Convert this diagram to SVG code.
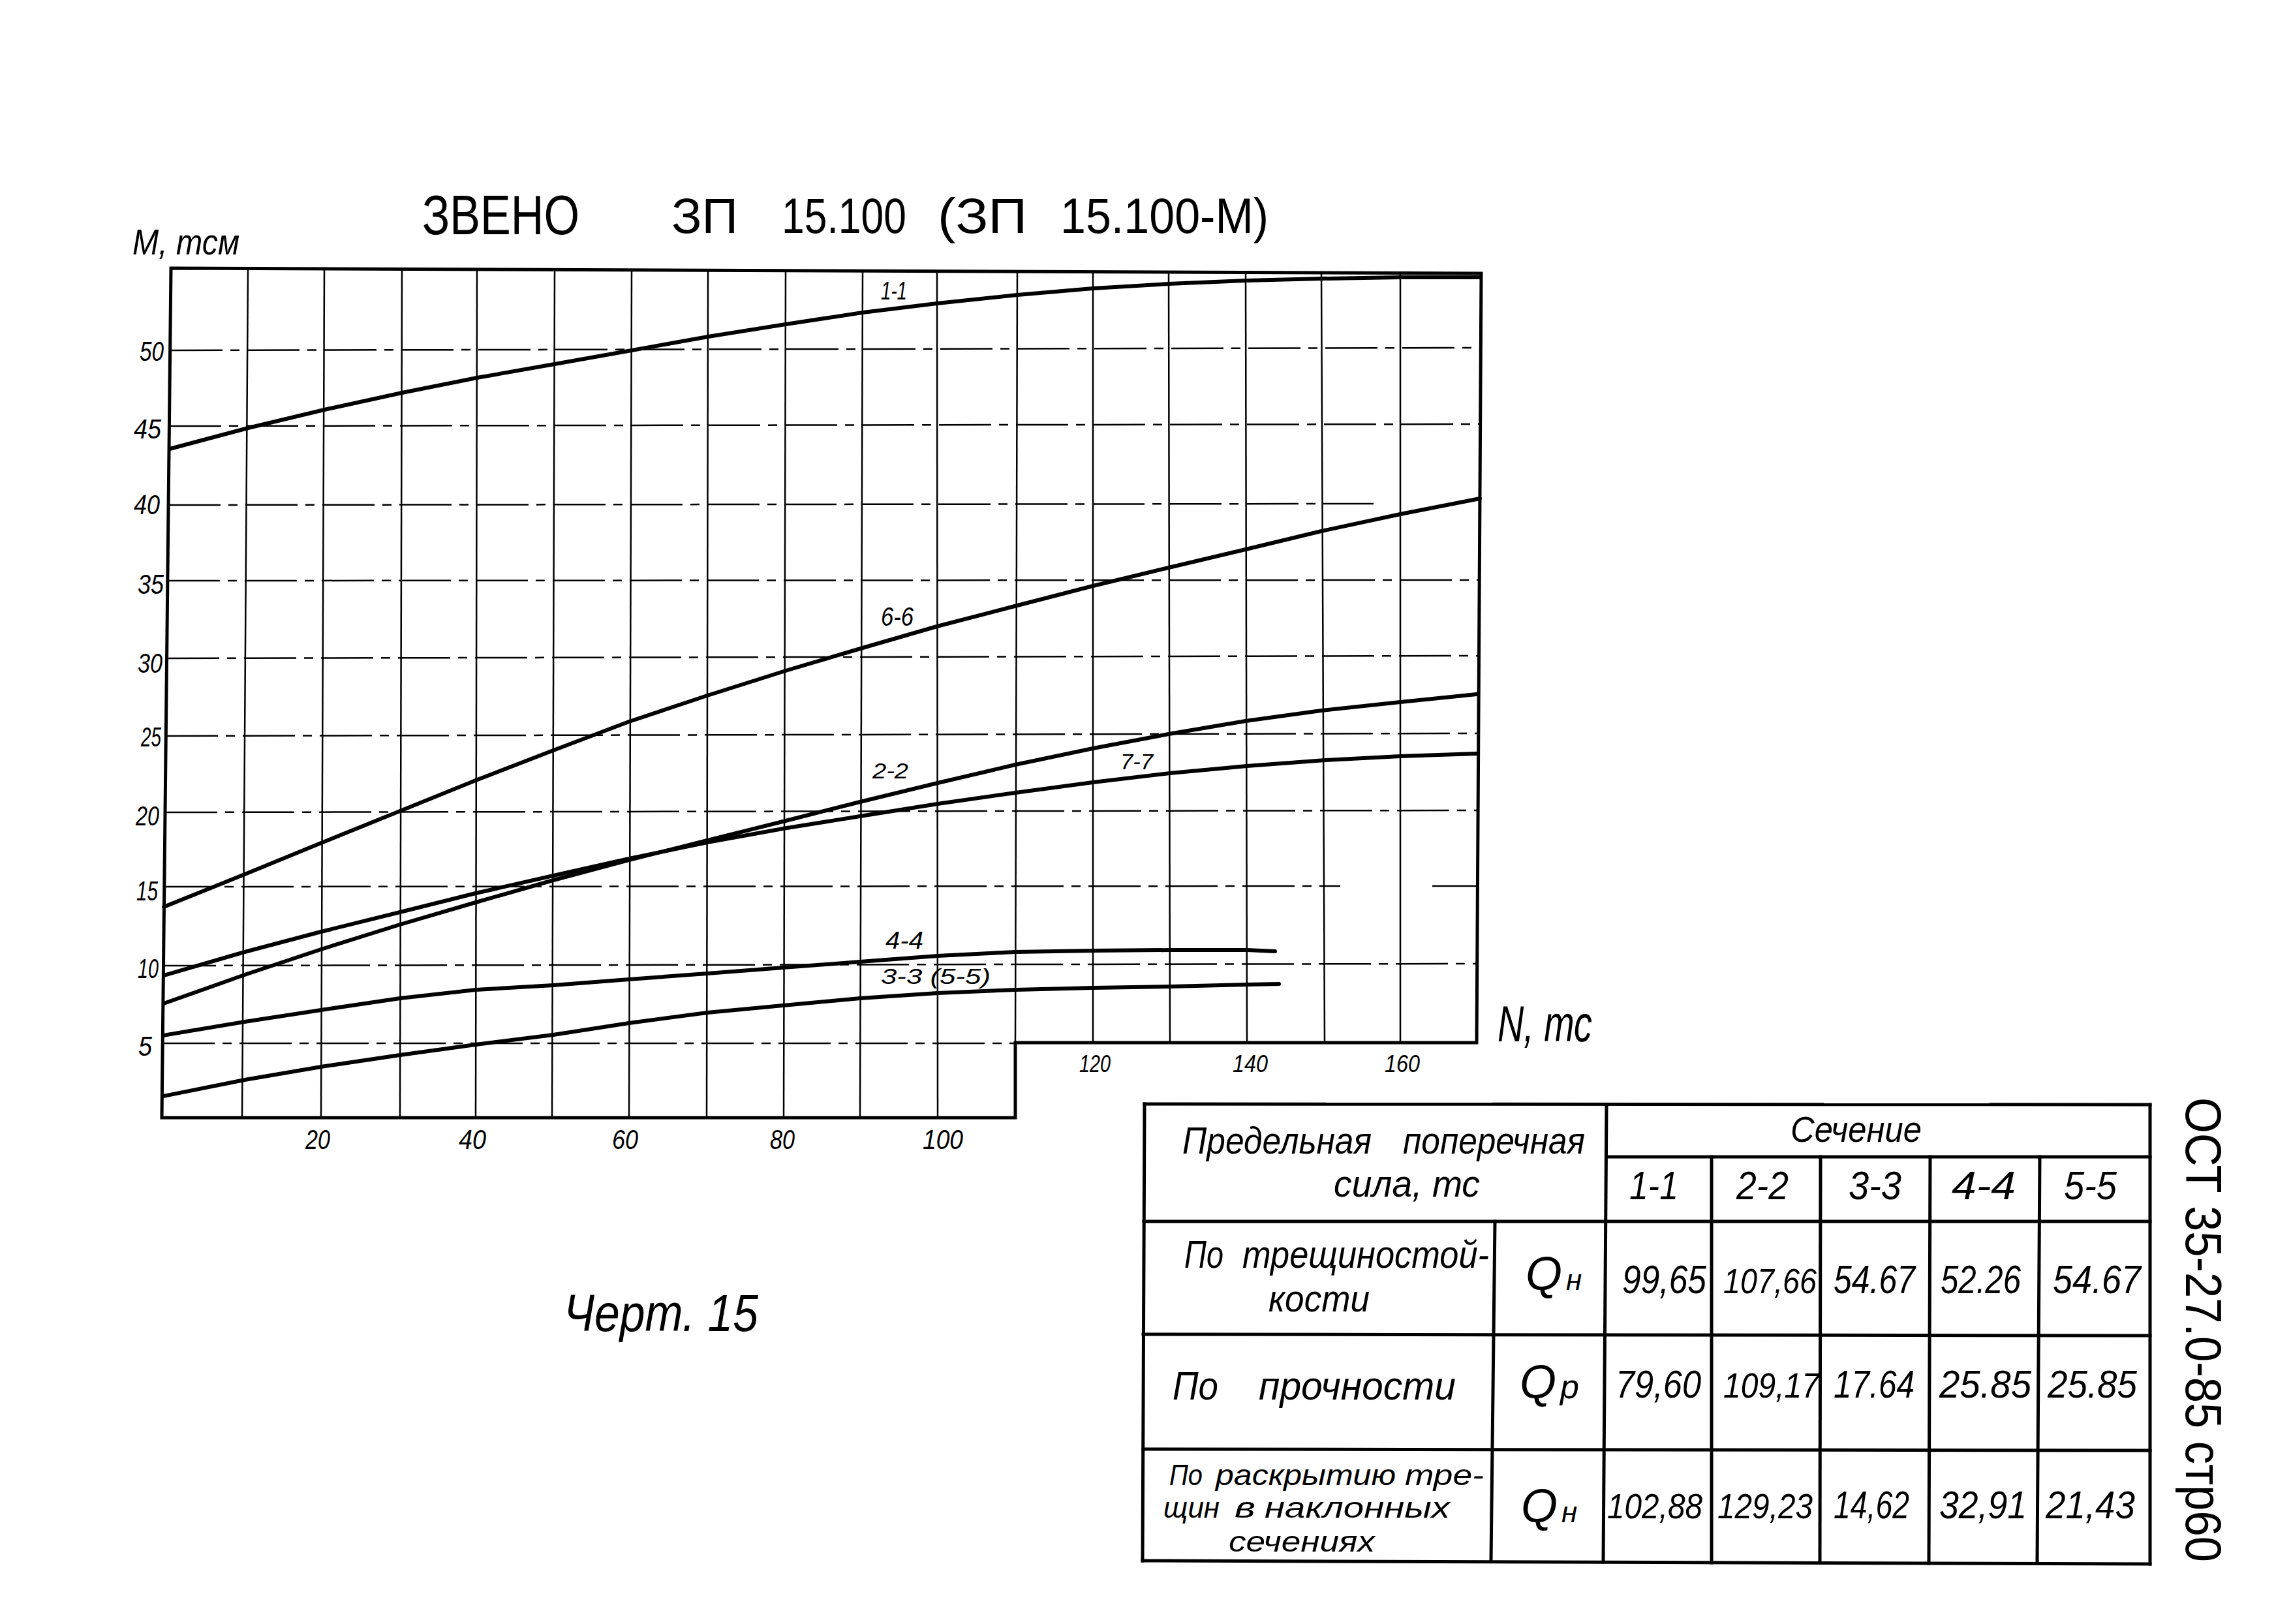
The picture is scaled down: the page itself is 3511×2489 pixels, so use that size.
<svg xmlns="http://www.w3.org/2000/svg" width="3511" height="2489" viewBox="0 0 3511 2489">
<defs>
<style>
.frame{fill:none;stroke:#000;stroke-width:5;stroke-linejoin:miter}
.gv{fill:none;stroke:#000;stroke-width:2.5}
.gh{fill:none;stroke:#000;stroke-width:2.5;stroke-dasharray:80 12 14 12}
.crv{fill:none;stroke:#000;stroke-width:6;stroke-linecap:round;stroke-linejoin:round}
.tl{fill:none;stroke:#000;stroke-width:5;stroke-linecap:square}
.t{font-family:"Liberation Sans",Arial,sans-serif;fill:#000}
.i{font-family:"Liberation Sans",Arial,sans-serif;font-style:italic;fill:#000}
</style>
</defs>
<rect x="0" y="0" width="3511" height="2489" fill="#fff"/>

<g id="title">
<text class="t" font-size="86" x="647" y="359" textLength="241" lengthAdjust="spacingAndGlyphs">ЗВЕНО</text>
<text class="t" font-size="76" y="357"><tspan x="1029" textLength="102" lengthAdjust="spacingAndGlyphs">ЗП</tspan><tspan x="1198" textLength="191" lengthAdjust="spacingAndGlyphs">15.100</tspan><tspan x="1437" textLength="137" lengthAdjust="spacingAndGlyphs">(ЗП</tspan><tspan x="1625" textLength="319" lengthAdjust="spacingAndGlyphs">15.100-М)</tspan></text>
</g>

<g id="grid">
<line class="gv" x1="380" y1="413" x2="371" y2="1713"/>
<line class="gv" x1="497" y1="413" x2="492" y2="1713"/>
<line class="gv" x1="616" y1="413" x2="613" y2="1713"/>
<line class="gv" x1="731" y1="414" x2="729" y2="1713"/>
<line class="gv" x1="850" y1="414" x2="846" y2="1713"/>
<line class="gv" x1="968" y1="414" x2="964" y2="1713"/>
<line class="gv" x1="1085" y1="415" x2="1083" y2="1713"/>
<line class="gv" x1="1204" y1="415" x2="1201" y2="1713"/>
<line class="gv" x1="1322" y1="415" x2="1318" y2="1713"/>
<line class="gv" x1="1436" y1="416" x2="1437" y2="1713"/>
<line class="gv" x1="1559" y1="416" x2="1556" y2="1598"/>
<line class="gv" x1="1675" y1="417" x2="1675" y2="1598"/>
<line class="gv" x1="1791" y1="417" x2="1793" y2="1598"/>
<line class="gv" x1="1909" y1="418" x2="1911" y2="1598"/>
<line class="gv" x1="2025" y1="418" x2="2030" y2="1598"/>
<line class="gv" x1="2146" y1="419" x2="2146" y2="1598"/>
<line class="gh" x1="261" y1="537" x2="2268" y2="533"/>
<line class="gh" x1="259" y1="653" x2="2268" y2="650"/>
<line class="gh" x1="258" y1="774" x2="2105" y2="772"/>
<line class="gh" x1="257" y1="890" x2="2267" y2="889"/>
<line class="gh" x1="256" y1="1009" x2="2266" y2="1005"/>
<line class="gh" x1="254" y1="1128" x2="2265" y2="1124"/>
<line class="gh" x1="253" y1="1245" x2="2265" y2="1242"/>
<line class="gh" x1="252" y1="1359" x2="2054" y2="1358"/>
<line class="gh" x1="2195" y1="1358" x2="2264" y2="1358"/>
<line class="gh" x1="251" y1="1480" x2="2264" y2="1477"/>
<line class="gh" x1="249" y1="1599" x2="1556" y2="1599"/>
</g>

<g id="frame">
<path class="frame" d="M262,411 L2270,419 L2263,1598 L1556,1598 L1556,1713 L248,1713 Z"/>
</g>

<g id="curves">
<polyline id="c11" class="crv" points="260,688 380,656 497,628 616,602 731,579 850,558 968,537 1085,516 1204,497 1322,479 1436,465 1559,452 1675,442 1791,435 1909,430 2025,427 2146,425 2268,425"/>
<polyline id="c66" class="crv" points="251,1390 375,1340 492,1292 613,1243 729,1196 848,1150 964,1106 1084,1066 1204,1028 1322,993 1436,960 1559,928 1675,898 1791,870 1909,842 2025,814 2146,788 2268,764"/>
<polyline id="c22" class="crv" points="251,1538 375,1494 492,1455 613,1417 729,1383 848,1349 964,1318 1084,1288 1200,1259 1318,1229 1437,1200 1556,1172 1675,1147 1791,1125 1909,1105 2025,1089 2146,1076 2263,1064"/>
<polyline id="c77" class="crv" points="251,1495 375,1459 492,1428 613,1398 729,1369 848,1342 964,1316 1084,1291 1200,1270 1318,1251 1437,1232 1556,1215 1675,1199 1793,1185 1911,1174 2031,1165 2146,1159 2263,1155"/>
<polyline id="c44" class="crv" points="250,1587 375,1566 492,1548 613,1530 729,1517 848,1510 964,1501 1084,1492 1200,1483 1318,1474 1437,1465 1556,1459 1675,1457 1793,1456 1911,1456 1954,1458"/>
<polyline id="c33" class="crv" points="250,1680 375,1655 492,1635 613,1617 729,1601 848,1586 964,1568 1084,1552 1200,1541 1318,1530 1437,1522 1556,1517 1675,1514 1793,1512 1911,1509 1960,1508"/>
</g>

<g id="curve-labels">
<text class="i" font-size="38" x="1350" y="459" textLength="40" lengthAdjust="spacingAndGlyphs">1-1</text>
<text class="i" font-size="40" x="1350" y="959" textLength="50" lengthAdjust="spacingAndGlyphs">6-6</text>
<text class="i" font-size="34" x="1337" y="1193" textLength="55" lengthAdjust="spacingAndGlyphs">2-2</text>
<text class="i" font-size="34" x="1717" y="1179" textLength="50" lengthAdjust="spacingAndGlyphs">7-7</text>
<text class="i" font-size="36" x="1357" y="1454" textLength="58" lengthAdjust="spacingAndGlyphs">4-4</text>
<text class="i" font-size="34" x="1350" y="1508" textLength="168" lengthAdjust="spacingAndGlyphs">3-3 (5-5)</text>
</g>

<g id="axis-labels">
<text class="i" font-size="56" x="203" y="390" textLength="164" lengthAdjust="spacingAndGlyphs">M, тсм</text>
<text class="i" font-size="78" x="2295" y="1596" textLength="145" lengthAdjust="spacingAndGlyphs">N, тс</text>
<text class="i" font-size="42" x="214" y="553" textLength="37" lengthAdjust="spacingAndGlyphs">50</text>
<text class="i" font-size="42" x="205" y="672" textLength="42" lengthAdjust="spacingAndGlyphs">45</text>
<text class="i" font-size="42" x="205" y="788" textLength="40" lengthAdjust="spacingAndGlyphs">40</text>
<text class="i" font-size="42" x="211" y="910" textLength="40" lengthAdjust="spacingAndGlyphs">35</text>
<text class="i" font-size="42" x="211" y="1031" textLength="38" lengthAdjust="spacingAndGlyphs">30</text>
<text class="i" font-size="42" x="216" y="1144" textLength="31" lengthAdjust="spacingAndGlyphs">25</text>
<text class="i" font-size="42" x="208" y="1265" textLength="36" lengthAdjust="spacingAndGlyphs">20</text>
<text class="i" font-size="42" x="209" y="1380" textLength="33" lengthAdjust="spacingAndGlyphs">15</text>
<text class="i" font-size="42" x="211" y="1499" textLength="32" lengthAdjust="spacingAndGlyphs">10</text>
<text class="i" font-size="42" x="212" y="1618" textLength="21" lengthAdjust="spacingAndGlyphs">5</text>
<text class="i" font-size="42" x="468" y="1761" textLength="38" lengthAdjust="spacingAndGlyphs">20</text>
<text class="i" font-size="42" x="703" y="1761" textLength="42" lengthAdjust="spacingAndGlyphs">40</text>
<text class="i" font-size="42" x="938" y="1761" textLength="40" lengthAdjust="spacingAndGlyphs">60</text>
<text class="i" font-size="42" x="1180" y="1761" textLength="38" lengthAdjust="spacingAndGlyphs">80</text>
<text class="i" font-size="42" x="1414" y="1761" textLength="62" lengthAdjust="spacingAndGlyphs">100</text>
<text class="i" font-size="36" x="1654" y="1643" textLength="48" lengthAdjust="spacingAndGlyphs">120</text>
<text class="i" font-size="36" x="1889" y="1643" textLength="54" lengthAdjust="spacingAndGlyphs">140</text>
<text class="i" font-size="36" x="2122" y="1643" textLength="54" lengthAdjust="spacingAndGlyphs">160</text>
</g>

<g id="caption">
<text class="i" font-size="80" x="864" y="2040" textLength="298" lengthAdjust="spacingAndGlyphs">Черт. 15</text>
</g>

<g id="doc-code">
<text class="t" font-size="78" transform="translate(3350,1682) rotate(90)" x="0" y="0" textLength="712" lengthAdjust="spacingAndGlyphs">ОСТ 35-27.0-85 стр60</text>
</g>

<g id="table">
<line class="tl" x1="1754" y1="1692" x2="3295" y2="1693"/>
<line class="tl" x1="1754" y1="1692" x2="1751" y2="2392"/>
<line class="tl" x1="3295" y1="1693" x2="3295" y2="2397"/>
<line class="tl" x1="1751" y1="2392" x2="3295" y2="2397"/>
<line class="tl" x1="2462" y1="1773" x2="3295" y2="1773"/>
<line class="tl" x1="1753" y1="1872" x2="3295" y2="1872"/>
<line class="tl" x1="1752" y1="2045" x2="3295" y2="2047"/>
<line class="tl" x1="1752" y1="2221" x2="3295" y2="2223"/>
<line class="tl" x1="2462" y1="1693" x2="2457" y2="2394"/>
<line class="tl" x1="2291" y1="1872" x2="2285" y2="2392"/>
<line class="tl" x1="2623" y1="1773" x2="2623" y2="2395"/>
<line class="tl" x1="2790" y1="1773" x2="2789" y2="2395"/>
<line class="tl" x1="2958" y1="1773" x2="2956" y2="2396"/>
<line class="tl" x1="3126" y1="1773" x2="3122" y2="2396"/>

<text class="i" font-size="58" y="1768"><tspan x="1812" textLength="290" lengthAdjust="spacingAndGlyphs">Предельная</tspan><tspan x="2150" textLength="279" lengthAdjust="spacingAndGlyphs">поперечная</tspan></text>
<text class="i" font-size="58" x="2044" y="1834" textLength="224" lengthAdjust="spacingAndGlyphs">сила, тс</text>
<text class="i" font-size="56" x="2744" y="1750" textLength="201" lengthAdjust="spacingAndGlyphs">Сечение</text>
<text class="i" font-size="62" x="2497" y="1838" textLength="75" lengthAdjust="spacingAndGlyphs">1-1</text>
<text class="i" font-size="62" x="2661" y="1838" textLength="80" lengthAdjust="spacingAndGlyphs">2-2</text>
<text class="i" font-size="62" x="2833" y="1838" textLength="81" lengthAdjust="spacingAndGlyphs">3-3</text>
<text class="i" font-size="62" x="2991" y="1838" textLength="98" lengthAdjust="spacingAndGlyphs">4-4</text>
<text class="i" font-size="62" x="3163" y="1838" textLength="81" lengthAdjust="spacingAndGlyphs">5-5</text>

<text class="i" font-size="60" y="1943"><tspan x="1815" textLength="60" lengthAdjust="spacingAndGlyphs">По</tspan><tspan x="1904" textLength="378" lengthAdjust="spacingAndGlyphs">трещиностой-</tspan></text>
<text class="i" font-size="58" x="1944" y="2010" textLength="155" lengthAdjust="spacingAndGlyphs">кости</text>
<text class="i" font-size="72" x="2338" y="1977">Q<tspan dx="6" font-size="44">н</tspan></text>
<text class="i" font-size="62" x="2486" y="1982" textLength="129" lengthAdjust="spacingAndGlyphs">99,65</text>
<text class="i" font-size="54" x="2641" y="1982" textLength="143" lengthAdjust="spacingAndGlyphs">107,66</text>
<text class="i" font-size="62" x="2810" y="1982" textLength="125" lengthAdjust="spacingAndGlyphs">54.67</text>
<text class="i" font-size="62" x="2974" y="1982" textLength="123" lengthAdjust="spacingAndGlyphs">52.26</text>
<text class="i" font-size="62" x="3146" y="1982" textLength="135" lengthAdjust="spacingAndGlyphs">54.67</text>

<text class="i" font-size="62" y="2145"><tspan x="1797" textLength="70" lengthAdjust="spacingAndGlyphs">По</tspan><tspan x="1929" textLength="302" lengthAdjust="spacingAndGlyphs">прочности</tspan></text>
<text class="i" font-size="72" x="2329" y="2143">Q<tspan dx="6" font-size="52">р</tspan></text>
<text class="i" font-size="60" x="2476" y="2142" textLength="131" lengthAdjust="spacingAndGlyphs">79,60</text>
<text class="i" font-size="54" x="2641" y="2142" textLength="147" lengthAdjust="spacingAndGlyphs">109,17</text>
<text class="i" font-size="60" x="2810" y="2142" textLength="124" lengthAdjust="spacingAndGlyphs">17.64</text>
<text class="i" font-size="60" x="2972" y="2142" textLength="141" lengthAdjust="spacingAndGlyphs">25.85</text>
<text class="i" font-size="60" x="3138" y="2142" textLength="137" lengthAdjust="spacingAndGlyphs">25.85</text>

<text class="i" font-size="44" y="2276"><tspan x="1792" textLength="51" lengthAdjust="spacingAndGlyphs">По</tspan><tspan x="1863" textLength="276" lengthAdjust="spacingAndGlyphs">раскрытию</tspan><tspan x="2153" textLength="121" lengthAdjust="spacingAndGlyphs">тре-</tspan></text>
<text class="i" font-size="44" y="2326"><tspan x="1783" textLength="86" lengthAdjust="spacingAndGlyphs">щин</tspan><tspan x="1892" textLength="32" lengthAdjust="spacingAndGlyphs">в</tspan><tspan x="1938" textLength="284" lengthAdjust="spacingAndGlyphs">наклонных</tspan></text>
<text class="i" font-size="44" x="1883" y="2378" textLength="224" lengthAdjust="spacingAndGlyphs">сечениях</text>
<text class="i" font-size="72" x="2331" y="2333">Q<tspan dx="6" font-size="44">н</tspan></text>
<text class="i" font-size="54" x="2463" y="2327" textLength="146" lengthAdjust="spacingAndGlyphs">102,88</text>
<text class="i" font-size="54" x="2632" y="2327" textLength="146" lengthAdjust="spacingAndGlyphs">129,23</text>
<text class="i" font-size="60" x="2810" y="2327" textLength="116" lengthAdjust="spacingAndGlyphs">14,62</text>
<text class="i" font-size="60" x="2972" y="2327" textLength="134" lengthAdjust="spacingAndGlyphs">32,91</text>
<text class="i" font-size="60" x="3135" y="2327" textLength="137" lengthAdjust="spacingAndGlyphs">21,43</text>
</g>
</svg>
